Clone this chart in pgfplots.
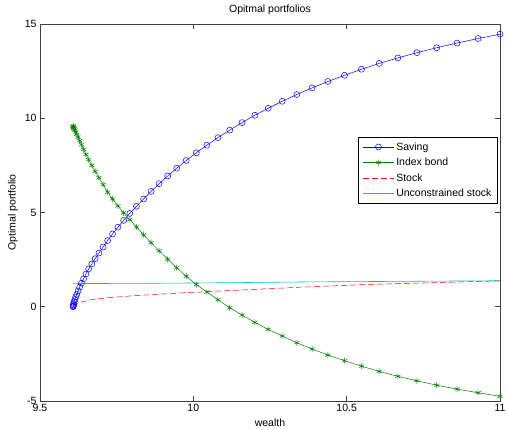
\documentclass[border=0pt]{standalone}
\usepackage{pgfplots}
\pgfplotsset{compat=1.18}
\usepackage{pgfplotstable}
\usepackage{fontspec}
\setmainfont{Liberation Sans}
\definecolor{mblue}{rgb}{0,0,1}
\definecolor{mgreen}{rgb}{0,0.5,0}
\definecolor{mred}{rgb}{1,0,0}
\definecolor{mcyan}{rgb}{0,0.75,0.75}
\pgfplotstableread{
x sav bond stock
9.6080 0.00 9.58 0.01
9.6081 0.02 9.57 0.01
9.6083 0.04 9.55 0.02
9.6089 0.10 9.52 0.03
9.6100 0.17 9.48 0.04
9.6115 0.27 9.43 0.06
9.6136 0.38 9.37 0.08
9.6164 0.52 9.27 0.11
9.6199 0.66 9.15 0.13
9.6241 0.84 8.99 0.17
9.6292 1.04 8.81 0.20
9.6352 1.25 8.60 0.25
9.6421 1.48 8.35 0.28
9.6499 1.74 8.08 0.31
9.6588 2.01 7.80 0.34
9.6689 2.27 7.50 0.38
9.6799 2.55 7.18 0.40
9.6923 2.85 6.85 0.43
9.7057 3.17 6.48 0.45
9.7205 3.51 6.08 0.48
9.7365 3.86 5.72 0.50
9.7539 4.22 5.35 0.52
9.7727 4.58 4.98 0.54
9.7927 4.95 4.62 0.57
9.8144 5.33 4.23 0.59
9.8377 5.72 3.82 0.62
9.8623 6.12 3.40 0.64
9.8883 6.53 2.97 0.67
9.9165 6.94 2.52 0.69
9.9457 7.35 2.07 0.72
9.9769 7.76 1.62 0.75
10.0096 8.17 1.18 0.77
10.0441 8.57 0.78 0.80
10.0804 8.97 0.37 0.83
10.1186 9.37 -0.05 0.86
10.1588 9.77 -0.44 0.89
10.2007 10.16 -0.83 0.92
10.2441 10.53 -1.20 0.96
10.2899 10.90 -1.55 0.99
10.3373 11.26 -1.91 1.03
10.3872 11.61 -2.24 1.06
10.4386 11.95 -2.56 1.10
10.4929 12.28 -2.86 1.13
10.5484 12.60 -3.15 1.17
10.6062 12.91 -3.43 1.20
10.6669 13.20 -3.69 1.23
10.7291 13.48 -3.93 1.25
10.7934 13.74 -4.16 1.28
10.8600 13.99 -4.37 1.31
10.9287 14.23 -4.56 1.34
11.0000 14.46 -4.75 1.37
}\datatable
\pgfplotstableread{
x unc
9.6080 1.23
9.8000 1.24
10.0000 1.26
10.2000 1.29
10.4000 1.32
10.6000 1.34
10.8000 1.36
11.0000 1.38
}\unctable
\begin{document}
\begin{tikzpicture}
\begin{axis}[
  scale only axis,
  width=460pt, height=377pt,
  xmin=9.5, xmax=11, ymin=-5, ymax=15,
  xtick={9.5,10,10.5,11}, xticklabels={9.5,10,10.5,11},
  ytick={-5,0,5,10,15}, yticklabels={-5,0,5,10,15},
  tick align=inside, major tick length=5pt,
  axis line style={black!75, line width=0.6pt},
  every tick/.style={black!75, line width=0.6pt},
  tick label style={font=\fontsize{10.5}{12}\selectfont},
  label style={font=\fontsize{10.5}{12}\selectfont},
  title style={font=\fontsize{10.5}{12}\selectfont},
  /pgf/number format/assume math mode=true,
  title={Opitmal portfolios},
  xlabel={wealth},
  ylabel={Optimal portfolio},
  legend style={at={(0.995,0.70)}, anchor=north east, font=\fontsize{10.5}{12}\selectfont,
    draw=black, line width=0.6pt, row sep=2.5pt, inner xsep=4pt, inner ysep=3pt},
  legend cell align=left,
  legend image code/.code={\draw[mark repeat=2,mark phase=2,#1] plot coordinates {(0pt,0pt) (15.5pt,0pt) (31pt,0pt)};},
]
\coordinate (SW) at (rel axis cs:0,0);
\coordinate (NE) at (rel axis cs:1,1);
\addplot[mblue, line width=0.5pt, mark=o, mark size=3pt, mark options={solid}] table[x=x,y=sav] {\datatable};
\addlegendentry{Saving}
\addplot[mgreen, line width=0.5pt, mark=asterisk, mark size=3pt, mark options={solid}] table[x=x,y=bond] {\datatable};
\addlegendentry{Index bond}
\addplot[mred, line width=0.5pt, dash pattern=on 6pt off 3pt] table[x=x,y=stock] {\datatable};
\addlegendentry{Stock}
\addplot[mcyan, line width=0.6pt] table[x=x,y=unc] {\unctable};
\addlegendentry{Unconstrained stock}
\end{axis}
\pgfresetboundingbox
\path ([shift={(-40pt,-28pt)}]SW) rectangle ([shift={(8pt,24pt)}]NE);
\end{tikzpicture}
\end{document}
